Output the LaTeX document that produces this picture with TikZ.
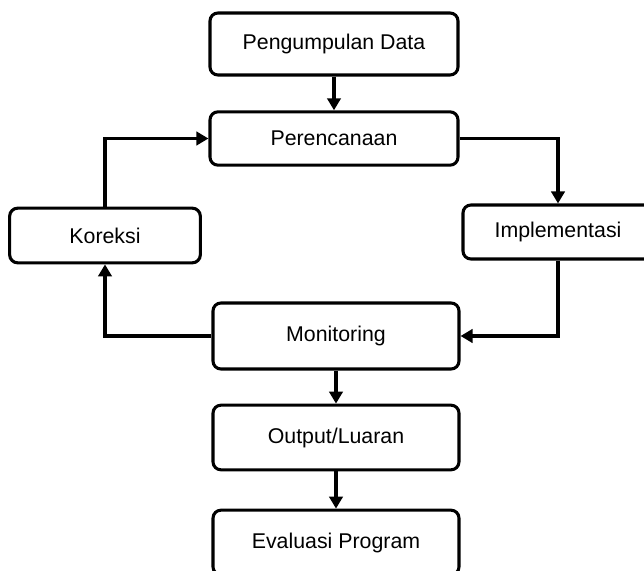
\documentclass[tikz,border=0pt]{standalone}
\usepackage{fontspec}
\setmainfont{Liberation Sans}
\usepackage{tikz}
\usetikzlibrary{arrows.meta,positioning}

\tikzset{
  kotak/.style={draw, rounded corners=6pt, line width=2.3pt, align=center,
    font=\fontsize{16}{19}\selectfont, inner sep=0pt},
  panah/.style={line width=2.3pt, -{Triangle[width=10pt,length=9pt]}}
}

\begin{document}
\begin{tikzpicture}[x=0.75pt,y=-0.75pt]
\useasboundingbox (0,0) rectangle (644,571);
%kotak-kotak tahapan
\node[kotak, minimum width=186pt, minimum height=46.5pt] (pd)  at (334,44)    {Pengumpulan Data};
\node[kotak, minimum width=186pt, minimum height=40pt]   (per) at (334,138.5) {Perencanaan};
\node[kotak, minimum width=142.5pt, minimum height=40.5pt] (imp) at (558,232) {Implementasi};
\node[kotak, minimum width=143pt, minimum height=41pt]   (kor) at (105,235.5) {Koreksi};
\node[kotak, minimum width=184.5pt, minimum height=49.5pt] (mon) at (336,336) {Monitoring};
\node[kotak, minimum width=184.5pt, minimum height=48.5pt] (out) at (336,437.5) {Output/Luaran};
\node[kotak, minimum width=184.5pt, minimum height=48.5pt] (eva) at (336,542.5) {Evaluasi Program};
%siklus
\draw[panah] (pd) -- (per);
\draw[panah] (per.east) -| (imp.north);
\draw[panah] (imp.south) |- (mon.east);
\draw[panah] (mon.west) -| (kor.south);
\draw[panah] (kor.north) |- (per.west);
%keluaran
\draw[panah] (mon) -- (out);
\draw[panah] (out) -- (eva);
\end{tikzpicture}
\end{document}
